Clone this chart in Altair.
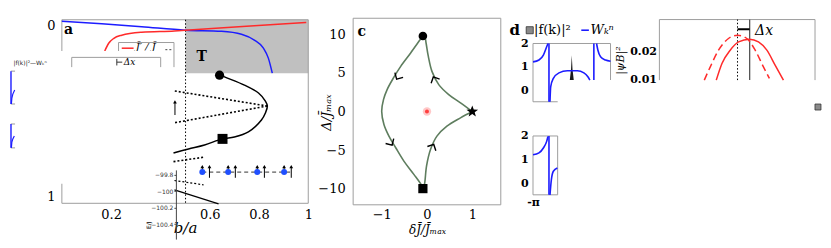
import math
import altair as alt
import pandas as pd

PI = math.pi
W, H = 815, 232

# ===================== panel a  (x = b/a, y = 0 top .. 1 bottom) =====================
a_blue_x = [0.0, 0.162, 0.324, 0.502, 0.648, 0.729, 0.781, 0.818, 0.838, 0.854]
a_blue_y = [0.008, 0.022, 0.038, 0.057, 0.063, 0.079, 0.111, 0.155, 0.209, 0.291]
a_red_x = [0.174, 0.190, 0.211, 0.243, 0.324, 0.457, 0.502, 0.749, 0.992]
a_red_y = [0.170, 0.128, 0.101, 0.084, 0.068, 0.061, 0.057, 0.035, 0.015]
a_black_x = [0.640, 0.660, 0.741, 0.798, 0.826, 0.834, 0.826, 0.810, 0.757, 0.700, 0.652, 0.579, 0.514, 0.453]
a_black_y = [0.299, 0.311, 0.356, 0.399, 0.443, 0.470, 0.508, 0.546, 0.611, 0.639, 0.649, 0.682, 0.704, 0.726]
a_dotted = [(0.834, 0.470, 0.453, 0.387), (0.834, 0.470, 0.453, 0.562), (0.453, 0.773, 0.575, 0.749)]
a_gray = [(0.502, 1.0, 0.0, 0.291)]
a_boundary_x = [0.502]
a_circle = [(0.640, 0.302)]
a_square = [(0.652, 0.649)]
a_spin_x = [0.570, 0.675, 0.793, 0.902]
a_spin_y = [0.830, 0.830, 0.830, 0.830]
a_chain = [(0.570, 0.931, 0.830)]
a_arrow_x = [0.570, 0.599, 0.675, 0.704, 0.793, 0.822, 0.902, 0.931, 0.459]
a_arrow_top = [0.800, 0.800, 0.800, 0.800, 0.800, 0.800, 0.800, 0.800, 0.447]
a_arrow_bottom = [0.830, 0.861, 0.830, 0.861, 0.830, 0.861, 0.830, 0.861, 0.519]
a_labels = ["a", "T"]
a_label_x = [0.027, 0.567]
a_label_y = [0.057, 0.202]
a_box1 = [(0.230, 0.258), (0.230, 0.124), (0.455, 0.124), (0.455, 0.258)]
a_box1_red = [(0.243, 0.155, 0.291, 0.155)]
a_box1_dash = [(0.420, 0.163, 0.452, 0.163)]
a_box1_text = ["J\u0304\u2032 / J\u0304"]
a_box1_text_xy = [(0.300, 0.150)]
a_mask = [(-0.008, 0.417, 0.170, 0.894)]
a_box2 = [(0.040, 0.258), (0.040, 0.205), (0.401, 0.205), (0.401, 0.258)]
a_box2_bracket = [(0.223, 0.213, 0.223, 0.249), (0.223, 0.231, 0.245, 0.231)]
a_box2_text = ["\u0394x"]
a_box2_text_xy = [(0.251, 0.231)]
frag_frame = [(-0.207, 0.280, -0.190, 0.280), (-0.207, 0.459, -0.190, 0.459),
              (-0.207, 0.568, -0.190, 0.568), (-0.207, 0.698, -0.190, 0.698)]
frag_vert = [(-0.2065, 0.280, -0.2065, 0.459), (-0.2065, 0.568, -0.2065, 0.698)]
frag_c1_x = [-0.205, -0.203, -0.199, -0.1915]
frag_c1_y = [0.459, 0.427, 0.405, 0.383]
frag_c2_x = [-0.205, -0.203, -0.199, -0.193]
frag_c2_y = [0.698, 0.666, 0.649, 0.633]
frag_text = ["|f(k)|\u00b2\u2014W\u2096\u207f"]
frag_text_xy = [(-0.061, 0.235)]
a_xticks = [0.2, 0.6, 0.8, 1.0]
a_yticks = [0, 1]

# inset axis inside panel a
inset_ticks = [-99.8, -100.0, -100.2, -100.4]
inset_solid_x = [0.457, 0.636]
inset_solid_y = [-99.982, -100.152]
inset_dot_x = [0.457, 0.575]
inset_dot_y = [-99.869, -99.921]

# ===================== panel c =====================
c_left_x = [-0.09, -0.14, -0.36, -0.58, -0.74, -0.88, -0.96, -1.0, -0.95, -0.84, -0.69, -0.51, -0.29, -0.11, -0.09]
c_left_y = [9.8, 9.4, 7.6, 5.86, 4.36, 2.85, 1.55, 0.04, -1.68, -3.19, -4.7, -6.43, -8.15, -9.66, -10.0]
c_low_x = [-0.09, -0.055, -0.01, 0.08, 0.22, 0.44, 0.74, 1.0]
c_low_y = [-10.0, -9.44, -7.08, -4.9, -3.19, -1.9, -0.82, 0.0]
c_up_x = [1.0, 0.74, 0.48, 0.26, 0.11, 0.03, -0.02, -0.05, -0.09]
c_up_y = [0.0, 1.12, 2.2, 3.49, 5.21, 7.15, 8.89, 9.74, 9.8]
c_arrow_x = [-0.67, -0.77, 0.14, 0.15]
c_arrow_y = [4.2, -4.36, 4.49, -4.27]
c_arrow_angle = [30, 329, 154, 207]
c_circle = [(-0.09, 9.8)]
c_square = [(-0.09, -10.0)]
c_star = [(1.0, 0.0)]
c_dot = [(0.0, 0.0)]
c_xticks = [-1, 0, 1]
c_yticks = [-10, -5, 0, 5, 10]

# ===================== panel d =====================
d_left_x = [-PI, -2.657, -2.301, -2.034, -1.929]
d_left_y = [1.21, 1.29, 1.5, 1.86, 2.0]
d_mid_x = [-1.766, -1.710, -1.492, -1.039, -0.360, 0.449, 0.982, 1.306, 1.467]
d_mid_y = [-0.5, 0.14, 0.5, 0.74, 0.83, 0.83, 0.74, 0.57, 0.43]
d_right_x = [2.009, 2.115, 2.333, 2.737, PI]
d_right_y = [2.0, 1.72, 1.43, 1.29, 1.24]
d_vert = [(-1.848, -0.5, -1.848, 2.0), (1.791, 0.43, 1.791, 2.0)]
d_spike_x = [-0.16, -0.06, 0.0, 0.06, 0.16]
d_spike_y = [0.43, 0.9, 1.5, 0.9, 0.43]
d_mask = [(-1.143, 3.35, -0.62, 0.43)]
d2_left_x = [-PI, -2.657, -2.301, -2.034, -1.929]
d2_left_y = [1.2, 1.28, 1.49, 1.77, 1.98]
d2_right_x = [-1.766, -1.654, -1.492, -1.168]
d2_right_y = [-0.5, 0.14, 0.5, 0.64]
d2_vert = [(-1.848, -0.5, -1.848, 2.0)]
d_yticks = [0, 1, 2]
d_leg_y = 2.57

# ===================== top-right panel =====================
tr_solid_x = [-0.269, -0.196, -0.090, 0.017, 0.158, 0.273, 0.381, 0.487, 0.594]
tr_solid_y = [0.00963, 0.01575, 0.02062, 0.02366, 0.02465, 0.02366, 0.02062, 0.01513, 0.00963]
tr_dash_x = [-0.423, -0.346, -0.240, -0.112, 0.004, 0.124, 0.231, 0.337, 0.414]
tr_dash_y = [0.00963, 0.01451, 0.02062, 0.02491, 0.02612, 0.02491, 0.02062, 0.01451, 0.01026]
tr_ylo, tr_yhi = 0.00963, 0.03187
tr_yticks = [0.01, 0.02]

FONT = "DejaVu Serif"
FRAME = "#9e9e9e"
BLUE = "#1c1cff"
RED = "#ff2a2a"
STAR = "M0,-1L0.247,-0.34L0.951,-0.309L0.399,0.13L0.588,0.809L0,0.42L-0.588,0.809L-0.399,0.13L-0.951,-0.309L-0.247,-0.34Z"
CHEVRON = "M-1,-1L0,0L1,-1"


def ldf(*pieces):
    rows = []
    for s, (xs, ys) in enumerate(pieces):
        for i, (x, y) in enumerate(zip(xs, ys)):
            rows.append({"x": x, "y": y, "o": i, "seg": s})
    return pd.DataFrame(rows)


def sdf(segs):
    rows = []
    for s, (x0, y0, x1, y1) in enumerate(segs):
        rows.append({"x": x0, "y": y0, "o": 0, "seg": s})
        rows.append({"x": x1, "y": y1, "o": 1, "seg": s})
    return pd.DataFrame(rows)


def pdf(pts, **extra):
    d = {"x": [p[0] for p in pts], "y": [p[1] for p in pts]}
    d.update(extra)
    return pd.DataFrame(d)


def rdf(rects):
    return pd.DataFrame([{"x": a, "x2": b, "y": c, "y2": d} for a, b, c, d in rects])


def tdf(texts, xy):
    return pd.DataFrame({"x": [p[0] for p in xy], "y": [p[1] for p in xy], "t": texts})


class Panel:
    """One sub-figure: its own x/y scales (placed by pixel range) and its own axes."""

    def __init__(self, xd, xr, yd, yr, xaxis=None, yaxis=None):
        self.xs = alt.Scale(domain=xd, range=xr, nice=False, zero=False)
        self.ys = alt.Scale(domain=yd, range=yr, nice=False, zero=False)
        self.xaxis = xaxis
        self.yaxis = yaxis

    def enc(self):
        return {"x": alt.X("x", type="quantitative", scale=self.xs, axis=self.xaxis),
                "y": alt.Y("y", type="quantitative", scale=self.ys, axis=self.yaxis)}

    def line(self, df, **mk):
        return alt.Chart(df).mark_line(**mk).encode(detail="seg:N", order="o:Q", **self.enc())

    def rect(self, df, **mk):
        return alt.Chart(df).mark_rect(**mk).encode(x2="x2", y2="y2", **self.enc())

    def points(self, df, **mk):
        return alt.Chart(df).mark_point(**mk).encode(**self.enc())

    def text(self, df, **mk):
        return alt.Chart(df).mark_text(**mk).encode(text="t:N", **self.enc())


# ---------------- panel a ----------------
a_xaxis = alt.Axis(orient="bottom", offset=195.5 - H, values=a_xticks, format="~g", labelFontSize=13,
                   labelPadding=5, labelFlush=False, title="b/a", titleX=175.5, titleY=24.5,
                   titleBaseline="middle", titleAlign="center", titleFontStyle="italic", titleFontSize=15)
a_yaxis = alt.Axis(orient="left", offset=-52, values=a_yticks, format="~g", labelFontSize=13,
                   labelPadding=7, labelFlush=True, title=None)
A = Panel([0, 1], [52, 299], [0, 1], [11.5, 195.5], a_xaxis, a_yaxis)

a_layer = alt.layer(
    A.rect(rdf(a_gray), color="#c0c0c0"),
    A.rect(rdf([(0, 1, 0, 1)]), fillOpacity=0, stroke=FRAME, strokeWidth=1),
    A.line(sdf([(a_boundary_x[0], 0, a_boundary_x[0], 1)]), color="black", strokeWidth=1, strokeDash=[1.5, 2]),
    A.line(ldf((a_blue_x, a_blue_y)), color=BLUE, strokeWidth=1.5, interpolate="monotone"),
    A.line(ldf((a_red_x, a_red_y)), color=RED, strokeWidth=1.5, interpolate="monotone"),
    A.line(ldf((a_black_x, a_black_y)), color="black", strokeWidth=1.5, interpolate="catmull-rom"),
    A.line(sdf(a_dotted), color="black", strokeWidth=1.6, strokeDash=[2, 2]),
    A.points(pdf(a_circle), shape="circle", filled=True, color="black", size=85, opacity=1),
    A.points(pdf(a_square), shape="square", filled=True, color="black", size=100, opacity=1),
    A.line(sdf([(c[0], c[2], c[1], c[2]) for c in a_chain]), color="#333333", strokeWidth=1, strokeDash=[4, 3]),
    A.line(sdf(list(zip(a_arrow_x, a_arrow_bottom, a_arrow_x, a_arrow_top))), color="black", strokeWidth=1),
    A.points(pdf(list(zip(a_arrow_x, a_arrow_top))), shape="triangle-up", filled=True, color="black", size=14, opacity=1),
    A.points(pdf(list(zip(a_spin_x, a_spin_y))), shape="circle", filled=True, color="#1f4fff", size=36, opacity=1),
    A.line(ldf(([p[0] for p in a_box1], [p[1] for p in a_box1])), color=FRAME, strokeWidth=1),
    A.line(sdf(a_box1_red), color=RED, strokeWidth=1.5),
    A.line(sdf(a_box1_dash), color="#444444", strokeWidth=1, strokeDash=[2, 2]),
    A.text(tdf(a_box1_text, a_box1_text_xy), font=FONT, fontSize=10, fontStyle="italic", align="left", color="black"),
    A.rect(rdf(a_mask), color="white"),
    A.line(ldf(([p[0] for p in a_box2], [p[1] for p in a_box2])), color=FRAME, strokeWidth=1),
    A.line(sdf(a_box2_bracket), color="#333333", strokeWidth=1),
    A.text(tdf(a_box2_text, a_box2_text_xy), font=FONT, fontSize=9, fontStyle="italic", align="left", color="black"),
    A.text(tdf(a_labels, list(zip(a_label_x, a_label_y))), font=FONT, fontSize=14, fontWeight="bold", color="black"),
    A.line(sdf(frag_frame), color="#9a9a9a", strokeWidth=1),
    A.line(sdf(frag_vert), color=BLUE, strokeWidth=1.4),
    A.line(ldf((frag_c1_x, frag_c1_y), (frag_c2_x, frag_c2_y)), color=BLUE, strokeWidth=1.2),
    A.text(tdf(frag_text, frag_text_xy), font="DejaVu Sans", fontSize=6, align="right", color="#222222"),
)

# ---------------- inset axis ----------------
i_yaxis = alt.Axis(orient="left", offset=-166.3, values=inset_ticks, format="~g", domain=True, domainColor="#444444",
                   ticks=True, tickSize=2, tickColor="#444444", labelFont="DejaVu Sans", labelFontSize=6,
                   labelColor="#333333", labelPadding=1, labelFlush=False, title="E/J", titleX=-27, titleY=217,
                   titleFontSize=6, titleAngle=270, titleBaseline="middle", titleAlign="center",
                   titleFont="DejaVu Sans", zindex=1)
I = Panel([0, 1], [52, 299], [-100.58, -99.74], [231.35, 162], None, i_yaxis)
inset_layer = alt.layer(
    I.line(ldf((inset_solid_x, inset_solid_y)), color="black", strokeWidth=1.2),
    I.line(ldf((inset_dot_x, inset_dot_y)), color="black", strokeWidth=1.2, strokeDash=[2, 2]),
)

# ---------------- panel c ----------------
c_xaxis = alt.Axis(orient="bottom", offset=197 - H, values=c_xticks, labelFontSize=13, labelPadding=4,
                   labelFlush=False, title="\u03b4J\u0304/J\u0304\u2098\u2090\u2093", titleX=418, titleY=25,
                   titleBaseline="middle", titleAlign="center", titleFontSize=12, titleFontStyle="italic")
c_yaxis = alt.Axis(orient="left", offset=-344, values=c_yticks, labelFontSize=13, labelPadding=8,
                   labelFlush=False, title="\u0394/J\u0304\u2098\u2090\u2093", titleX=-27, titleY=104,
                   titleBaseline="middle", titleAlign="center", titleAngle=270, titleFontSize=13,
                   titleFontStyle="italic")
C = Panel([-1.63, 1.63], [344, 492], [-12.1, 12.1], [197, 10], c_xaxis, c_yaxis)
c_layer = alt.layer(
    C.rect(rdf([(-1.63, 1.63, -12.1, 12.1)]), fillOpacity=0, stroke=FRAME, strokeWidth=1),
    C.line(ldf((c_left_x, c_left_y), (c_low_x, c_low_y), (c_up_x, c_up_y)), color="#5e7d5e", strokeWidth=1.6,
           interpolate="catmull-rom"),
    C.points(pdf(list(zip(c_arrow_x, c_arrow_y)), a=c_arrow_angle), shape=CHEVRON, filled=False, color="black",
             size=90, strokeWidth=1.4, opacity=1).encode(angle=alt.Angle("a:Q", scale=None)),
    C.points(pdf(c_dot), shape="circle", filled=True, color="#ff6060", size=70, opacity=0.35),
    C.points(pdf(c_dot), shape="circle", filled=True, color="#ff3030", size=16, opacity=0.9),
    C.points(pdf(c_circle), shape="circle", filled=True, color="black", size=75, opacity=1),
    C.points(pdf(c_square), shape="square", filled=True, color="black", size=85, opacity=1),
    C.points(pdf(c_star), shape=STAR, filled=True, color="black", size=150, opacity=1),
    C.text(tdf(["c"], [(-1.44, 10.28)]), font=FONT, fontSize=14, fontWeight="bold", color="black"),
)

# ---------------- panel d ----------------
d1_yaxis = alt.Axis(orient="left", offset=-524.3, values=d_yticks, labelFontSize=11, labelFontWeight="bold",
                    labelPadding=5, labelFlush=False, title=None)
D1 = Panel([-PI, PI], [524.3, 602], [-0.5, 2], [93.7, 35.3], None, d1_yaxis)
d1_layer = alt.layer(
    D1.rect(rdf([(-PI, PI, -0.5, 2)]), fillOpacity=0, stroke=FRAME, strokeWidth=1),
    D1.rect(rdf(d_mask), color="white"),
    alt.Chart(pd.DataFrame({"x": d_spike_x, "y": d_spike_y, "b": [0.43] * 5})).mark_area(color="#1a1a1a").encode(
        y2="b", **D1.enc()),
    D1.line(ldf((d_left_x, d_left_y), (d_mid_x, d_mid_y), (d_right_x, d_right_y)), color=BLUE, strokeWidth=1.6,
            interpolate="monotone"),
    D1.line(sdf(d_vert), color=BLUE, strokeWidth=1.6),
    D1.text(tdf(["d"], [(-4.62, 2.59)]), font=FONT, fontSize=15, fontWeight="bold", color="black"),
    D1.points(pdf([(-3.408, d_leg_y)]), shape="square", filled=True, color="#8a8a8a", stroke="#333333",
              strokeWidth=0.8, size=50, opacity=1),
    D1.text(tdf(["|f(k)|\u00b2"], [(-3.06, d_leg_y)]), font=FONT, fontSize=13, align="left", color="black"),
    D1.line(sdf([(0.772, d_leg_y, 1.387, d_leg_y)]), color=BLUE, strokeWidth=1.6),
    D1.text(tdf(["W\u2096\u207f"], [(1.524, d_leg_y)]), font=FONT, fontSize=13, fontStyle="italic",
            align="left", color="black"),
)

d2_yaxis = alt.Axis(orient="left", offset=-524.3, values=d_yticks, labelFontSize=11, labelFontWeight="bold",
                    labelPadding=5, labelFlush=False, title=None)
d2_xaxis = alt.Axis(orient="bottom", offset=187 - H, values=[-PI], labelExpr="'-\u03c0'", labelFontSize=11,
                    labelFontWeight="bold", labelPadding=2, labelFlush=False, title=None)
D2 = Panel([-PI, -1.144], [524.3, 549], [-0.5, 2], [187, 128], d2_xaxis, d2_yaxis)
d2_layer = alt.layer(
    D2.rect(rdf([(-PI, -1.144, -0.5, 2)]), fillOpacity=0, stroke=FRAME, strokeWidth=1),
    D2.line(ldf((d2_left_x, d2_left_y), (d2_right_x, d2_right_y)), color=BLUE, strokeWidth=1.6,
            interpolate="monotone"),
    D2.line(sdf(d2_vert), color=BLUE, strokeWidth=1.6),
)

# ---------------- top-right panel ----------------
tr_yaxis = alt.Axis(orient="left", offset=-651, values=tr_yticks, format=".2f", labelFontSize=11,
                    labelFontWeight="bold", labelPadding=3, labelFlush=False, title="|\u03c8B|\u00b2",
                    titleX=-39, titleY=52, titleBaseline="middle", titleAlign="center", titleAngle=270,
                    titleFontSize=11, titleFontStyle="italic")
TR = Panel([-1, 1], [651, 807], [tr_ylo, tr_yhi], [72, 11.3], None, tr_yaxis)
tr_layer = alt.layer(
    TR.line(ldf(([-1, -1, 1, 1], [tr_ylo, tr_yhi, tr_yhi, tr_ylo])), color=FRAME, strokeWidth=1),
    TR.line(sdf([(0.004, tr_ylo, 0.004, tr_yhi)]), color="black", strokeWidth=1, strokeDash=[1.5, 2]),
    TR.line(sdf([(0.16, tr_ylo, 0.16, tr_yhi)]), color="#555555", strokeWidth=1.3),
    TR.line(ldf((tr_dash_x, tr_dash_y)), color=RED, strokeWidth=1.5, strokeDash=[7, 4], interpolate="monotone"),
    TR.line(ldf((tr_solid_x, tr_solid_y)), color=RED, strokeWidth=1.5, interpolate="monotone"),
    TR.line(sdf([(0.004, 0.02831, 0.16, 0.02831)]), color="black", strokeWidth=2),
    TR.text(tdf(["\u0394x"], [(0.23, 0.0277)]), font=FONT, fontSize=14, fontStyle="italic", align="left",
            color="black"),
    TR.points(pdf([(1.038, -0.00026)]), shape="square", filled=True, color="#8a8a8a", stroke="#333333",
              strokeWidth=0.8, size=36, opacity=1),
)

chart = alt.layer(a_layer, inset_layer, c_layer, d1_layer, d2_layer, tr_layer).resolve_scale(
    x="independent", y="independent"
).properties(
    width=W, height=H, padding=0
).configure_view(
    strokeWidth=0
).configure_axis(
    grid=False, domain=False, ticks=False, labelFont=FONT, labelColor="black",
    titleColor="black", titleFont=FONT, titleFontWeight="normal"
)

chart.save("out.html", embed_options={"renderer": "svg", "actions": False})
